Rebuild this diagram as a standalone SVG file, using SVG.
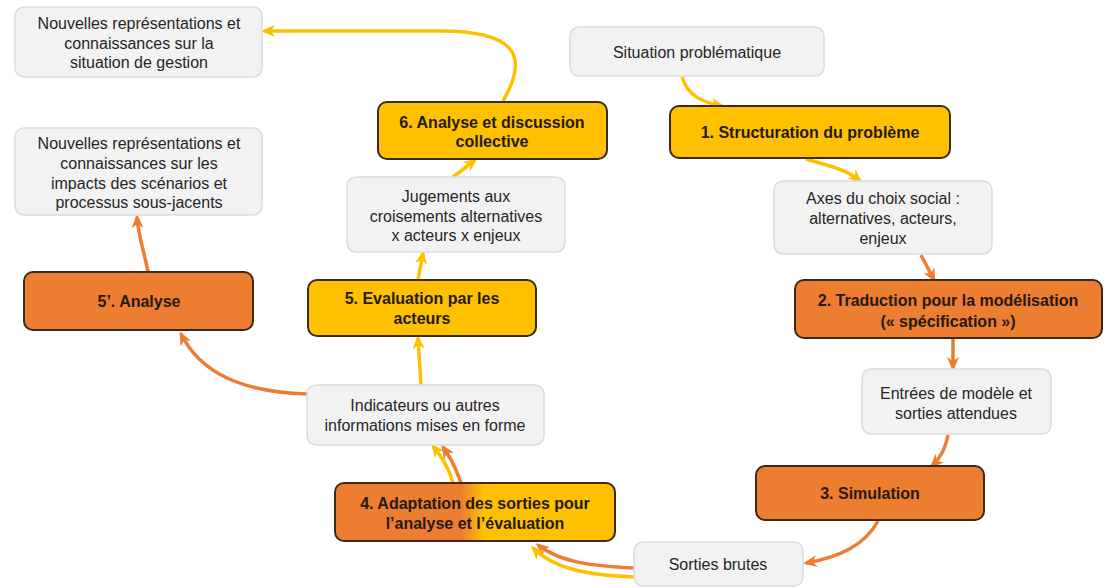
<svg xmlns="http://www.w3.org/2000/svg" width="1108" height="587" viewBox="0 0 1108 587">
  <defs>
    <style>
      .g rect { fill: #F2F2F2; stroke: #DCDCDC; stroke-width: 1.5; }
      .g text { font-family: "Liberation Sans", Arial, sans-serif; font-size: 16px; fill: #262626; text-anchor: middle; }
      .y rect { fill: #FFC000; stroke: #3A2A18; stroke-width: 2; }
      .o rect { fill: #ED7D31; stroke: #3A2A18; stroke-width: 2; }
      .y text, .o text { font-family: "Liberation Sans", Arial, sans-serif; font-size: 16px; font-weight: bold; fill: #231A10; text-anchor: middle; }
      .cy { fill: none; stroke: #FFC000; stroke-width: 3.5; marker-end: url(#ay); }
      .co { fill: none; stroke: #ED7D31; stroke-width: 3.5; marker-end: url(#ao); }
    </style>
    <marker id="ay" viewBox="0 0 14 12" refX="11" refY="6" markerWidth="14" markerHeight="12" markerUnits="userSpaceOnUse" orient="auto">
      <path d="M0,0 L14,6 L0,12 L4,6 Z" fill="#FFC000"/>
    </marker>
    <marker id="ao" viewBox="0 0 14 12" refX="11" refY="6" markerWidth="14" markerHeight="12" markerUnits="userSpaceOnUse" orient="auto">
      <path d="M0,0 L14,6 L0,12 L4,6 Z" fill="#ED7D31"/>
    </marker>
    <linearGradient id="grad4" x1="0" y1="0" x2="1" y2="0">
      <stop offset="0" stop-color="#ED7D31"/>
      <stop offset="0.45" stop-color="#ED7D31"/>
      <stop offset="0.53" stop-color="#FFC000"/>
      <stop offset="1" stop-color="#FFC000"/>
    </linearGradient>
  </defs>
  <rect width="1108" height="587" fill="#FFFFFF"/>

  <g id="connectors">
    <path class="cy" d="M682,77 C688,96 702,102 722,106"/>
    <path class="cy" d="M806,159 C825,165 845,168 860,181"/>
    <path class="co" d="M921,255 L934,280"/>
    <path class="co" d="M953,338 L953,368"/>
    <path class="co" d="M948,435 C945,450 940,458 932,466"/>
    <path class="co" d="M878,521 C865,545 840,557 806,563"/>
    <path class="co" d="M634,568 C590,566 560,562 538,545"/>
    <path class="cy" d="M634,577 C585,575 553,568 533,548"/>
    <path class="cy" d="M453,483 C448,465 440,455 433,446"/>
    <path class="co" d="M461,483 C455,465 449,456 443,447"/>
    <path class="cy" d="M421,385 L418,338"/>
    <path class="co" d="M307,394 C240,392 200,372 181,334"/>
    <path class="cy" d="M418,280 L423,253"/>
    <path class="cy" d="M452,178 L475,160"/>
    <path class="cy" d="M503,101 C530,55 515,31 440,31 L264,31"/>
    <path class="co" d="M148,272 C145,255 138,235 137,217"/>
  </g>

  <g id="n-situation" class="g">
    <rect x="570" y="27" width="254" height="49" rx="9"/>
    <text x="697" y="58">Situation problématique</text>
  </g>
  <g id="n-step1" class="y">
    <rect x="670" y="106" width="280" height="52" rx="9"/>
    <text x="810" y="138">1. Structuration du problème</text>
  </g>
  <g id="n-axes" class="g">
    <rect x="774" y="181" width="218" height="73" rx="9"/>
    <text x="883" y="204">Axes du choix social :</text>
    <text x="883" y="224">alternatives, acteurs,</text>
    <text x="883" y="244">enjeux</text>
  </g>
  <g id="n-step2" class="o">
    <rect x="795" y="280" width="307" height="58" rx="9"/>
    <text x="948" y="306">2. Traduction pour la modélisation</text>
    <text x="948" y="327">(« spécification »)</text>
  </g>
  <g id="n-entrees" class="g">
    <rect x="862" y="369" width="189" height="65" rx="9"/>
    <text x="956" y="399">Entrées de modèle et</text>
    <text x="956" y="419">sorties attendues</text>
  </g>
  <g id="n-step3" class="o">
    <rect x="756" y="466" width="228" height="54" rx="9"/>
    <text x="870" y="499">3. Simulation</text>
  </g>
  <g id="n-sorties" class="g">
    <rect x="634" y="542" width="169" height="44" rx="9"/>
    <text x="718" y="570">Sorties brutes</text>
  </g>
  <g id="n-step4" class="y">
    <rect x="335" y="483" width="280" height="58" rx="9" style="fill:url(#grad4)"/>
    <text x="475" y="509">4. Adaptation des sorties pour</text>
    <text x="475" y="529">l’analyse et l’évaluation</text>
  </g>
  <g id="n-indicateurs" class="g">
    <rect x="307" y="385" width="237" height="60" rx="9"/>
    <text x="425" y="411">Indicateurs ou autres</text>
    <text x="425" y="431">informations mises en forme</text>
  </g>
  <g id="n-step5" class="y">
    <rect x="308" y="280" width="228" height="56" rx="9"/>
    <text x="422" y="304">5. Evaluation par les</text>
    <text x="422" y="324">acteurs</text>
  </g>
  <g id="n-jugements" class="g">
    <rect x="347" y="177" width="218" height="75" rx="9"/>
    <text x="456" y="202">Jugements aux</text>
    <text x="456" y="222">croisements alternatives</text>
    <text x="456" y="241">x acteurs x enjeux</text>
  </g>
  <g id="n-step6" class="y">
    <rect x="378" y="102" width="229" height="57" rx="9"/>
    <text x="492" y="128">6. Analyse et discussion</text>
    <text x="492" y="147">collective</text>
  </g>
  <g id="n-nouv1" class="g">
    <rect x="15" y="7" width="247" height="70" rx="9"/>
    <text x="139" y="29">Nouvelles représentations et</text>
    <text x="139" y="49">connaissances sur la</text>
    <text x="139" y="68">situation de gestion</text>
  </g>
  <g id="n-step5p" class="o">
    <rect x="24" y="272" width="229" height="58" rx="9"/>
    <text x="139" y="307">5’. Analyse</text>
  </g>
  <g id="n-nouv2" class="g">
    <rect x="15" y="128" width="247" height="87" rx="9"/>
    <text x="139" y="149">Nouvelles représentations et</text>
    <text x="139" y="169">connaissances sur les</text>
    <text x="139" y="189">impacts des scénarios et</text>
    <text x="139" y="208">processus sous-jacents</text>
  </g>
</svg>
